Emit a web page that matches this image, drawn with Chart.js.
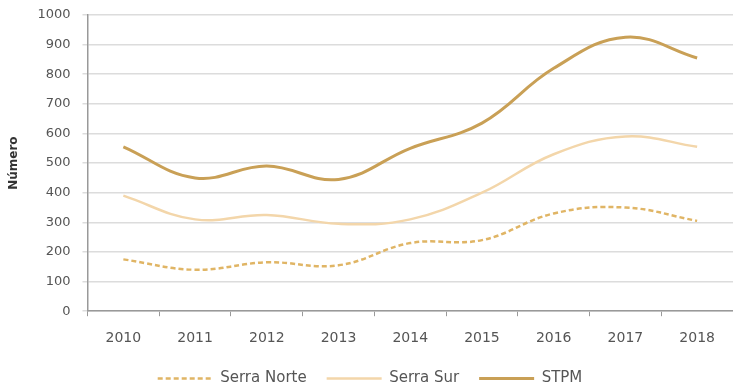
<!DOCTYPE html>
<html>
<head>
<meta charset="utf-8">
<script src="https://cdn.jsdelivr.net/npm/chart.js@4"></script>
<style>
  body { margin: 0; background: #fff; }
  #box { width: 733px; height: 388px; }
</style>
</head>
<body>
<div id="box"><canvas id="chartz"></canvas></div>
<script>
// years on the x axis
var years = ['2010', '2011', '2012', '2013', '2014', '2015', '2016', '2017', '2018'];
// values
var serraNorte = [175, 140, 165, 155, 230, 240, 330, 350, 305];
var serraSur = [390, 310, 325, 295, 310, 400, 530, 590, 555];
var stpm = [555, 450, 490, 445, 550, 635, 820, 925, 855];
var yTicks = [0, 100, 200, 300, 400, 500, 600, 700, 800, 900, 1000];

var myCanvas = document.getElementById('chartz').getContext('2d');

var chart = {
    type: 'line',
    data: {
        labels: years,
        datasets: [{
            label: 'Serra Norte',
            data: serraNorte,
            borderColor: '#E0B565',
            borderWidth: 2.5,
            borderDash: [5, 3],
            pointRadius: 0,
            tension: 0.4,
            fill: false
        }, {
            label: 'Serra Sur',
            data: serraSur,
            borderColor: '#F3D6AA',
            borderWidth: 2.5,
            pointRadius: 0,
            tension: 0.4,
            fill: false
        }, {
            label: 'STPM',
            data: stpm,
            borderColor: '#C9A056',
            borderWidth: 3,
            pointRadius: 0,
            tension: 0.4,
            fill: false
        }]
    },
    options: {
        responsive: true,
        maintainAspectRatio: false,
        animation: false,
        layout: {
            padding: { left: 7, right: 0, top: 0, bottom: -8 }
        },
        plugins: {
            legend: {
                position: 'bottom',
                labels: {
                    usePointStyle: true,
                    pointStyle: 'line',
                    pointStyleWidth: 55,
                    padding: 20,
                    color: '#555',
                    font: { family: 'DejaVu Sans', size: 15 },
                    // keep the dash of each line in the legend
                    generateLabels: function (c) {
                        var items = Chart.defaults.plugins.legend.labels.generateLabels(c);
                        items.forEach(function (it) {
                            var ds = c.data.datasets[it.datasetIndex];
                            it.lineDash = ds.borderDash || [];
                            it.lineWidth = ds.borderWidth;
                            it.strokeStyle = ds.borderColor;
                        });
                        return items;
                    }
                }
            },
            tooltip: { enabled: false }
        },
        scales: {
            x: {
                offset: true,
                grid: {
                    offset: true,
                    drawOnChartArea: false,
                    tickLength: 5,
                    color: '#999'
                },
                border: { color: '#999', width: 1.5 },
                ticks: {
                    color: '#555',
                    padding: 14,
                    maxRotation: 0,
                    font: { family: 'DejaVu Sans', size: 14 }
                },
                afterFit: function (scale) { scale.height -= 10; }
            },
            y: {
                min: 0,
                max: 1000,
                afterBuildTicks: function (axis) {
                    axis.ticks = yTicks.map(function (v) { return { value: v }; });
                },
                // top label may poke above the chart area a bit
                afterFit: function (scale) { scale.paddingTop = 15; },
                grid: {
                    color: '#DCDCDC',
                    lineWidth: 1.5,
                    tickLength: 5
                },
                border: { color: '#999', width: 1.5 },
                ticks: {
                    color: '#555',
                    padding: 12,
                    font: { family: 'DejaVu Sans', size: 13 },
                    callback: function (v) { return String(v); }
                },
                title: {
                    display: true,
                    text: 'Número',
                    color: '#333',
                    padding: { top: 0, bottom: 4 },
                    font: { family: 'DejaVu Sans', size: 12, weight: 'bold' }
                }
            }
        }
    }
};
var statChart = new Chart(myCanvas, chart);
</script>
</body>
</html>
